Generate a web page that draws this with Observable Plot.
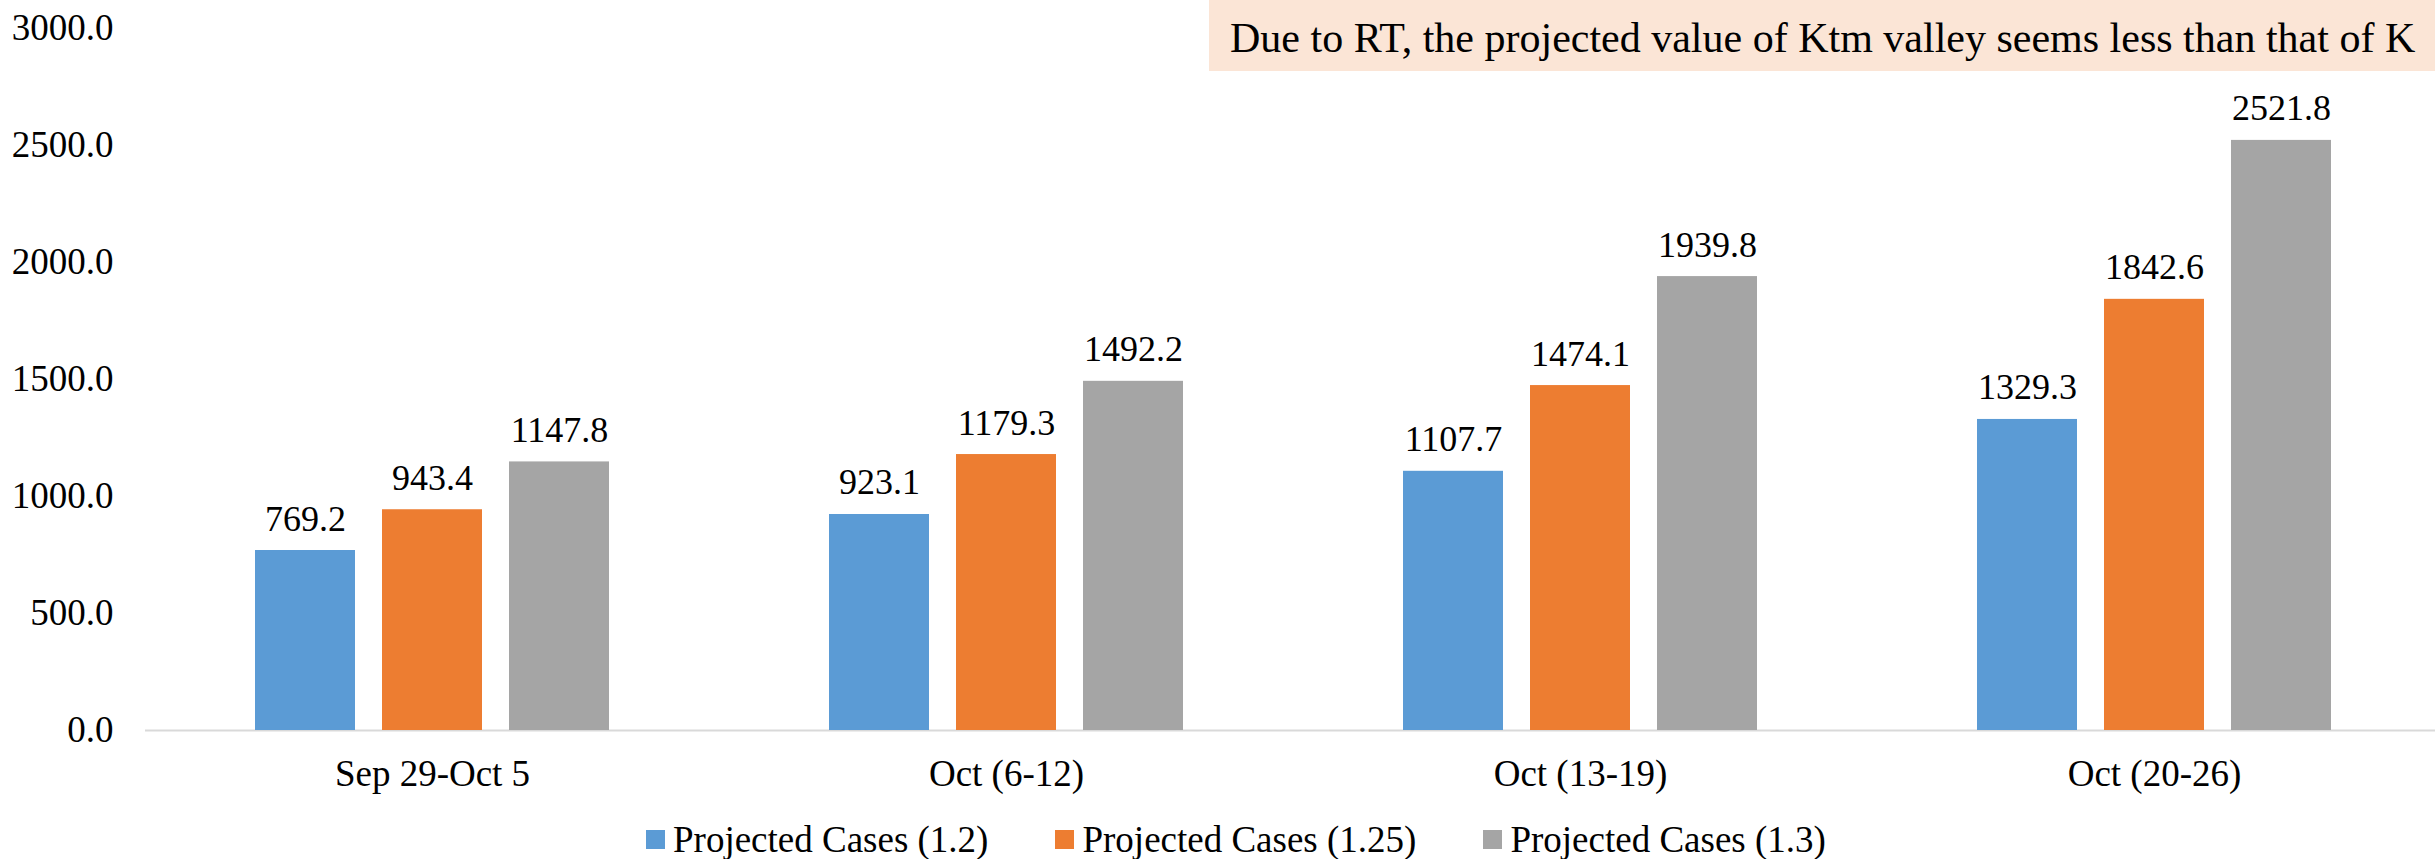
<!DOCTYPE html>
<html>
<head>
<meta charset="utf-8">
<script src="https://cdn.jsdelivr.net/npm/d3@7"></script>
<script src="https://cdn.jsdelivr.net/npm/@observablehq/plot@0.6"></script>
<style>
  html, body { margin: 0; padding: 0; background: #fff; overflow: hidden; }
  #wrap { position: relative; width: 2435px; height: 859px; font-family: "Liberation Serif", "Times New Roman", serif; color: #000; }
  #wrap svg, #wrap svg text { font-family: "Liberation Serif", "Times New Roman", serif !important; }
  #note { position: absolute; left: 1209px; top: 0; width: 1226px; height: 71px; background: #FBE5D6; font-size: 42px; line-height: 76px; padding-left: 21px; white-space: nowrap; overflow: hidden; box-sizing: border-box; z-index: 2; }
  #legend { position: absolute; left: 646px; top: 812px; height: 54px; display: flex; align-items: center; font-size: 37px; white-space: nowrap; }
  .item { display: flex; align-items: center; margin-right: 67px; }
  .sw { width: 19px; height: 19px; margin-right: 8px; }
</style>
</head>
<body>
<div id="wrap"></div>
<script>
const categories = ["Sep 29-Oct 5", "Oct (6-12)", "Oct (13-19)", "Oct (20-26)"];
const seriesNames = ["Projected Cases (1.2)", "Projected Cases (1.25)", "Projected Cases (1.3)"];
const cases12  = [769.2, 923.1, 1107.7, 1329.3];
const cases125 = [943.4, 1179.3, 1474.1, 1842.6];
const cases13  = [1147.8, 1492.2, 1939.8, 2521.8];
const colors = ["#5B9BD5", "#ED7D31", "#A5A5A5"];
const yTicks = [0, 500, 1000, 1500, 2000, 2500, 3000];
const noteText = "Due to RT, the projected value of Ktm valley seems less than that of K";

const rows = [];
[cases12, cases125, cases13].forEach((vals, si) =>
  vals.forEach((v, ci) => rows.push({category: categories[ci], series: seriesNames[si], value: v}))
);
const fmt = d3.format(".1f");

const chart = Plot.plot({
  width: 2435,
  height: 812,
  marginLeft: 144,
  marginRight: 0,
  marginTop: 28,
  marginBottom: 82,
  style: {fontFamily: "'Liberation Serif', 'Times New Roman', serif", fontSize: "37px", color: "#000", background: "transparent"},
  facet: {data: rows, x: "category", label: null},
  fx: {domain: categories, range: [144.3, 2441.5], padding: 0, axis: "bottom", tickSize: 0, tickPadding: 29, label: null},
  x: {domain: seriesNames, paddingInner: 0.216, paddingOuter: 0.86, axis: null},
  y: {domain: [0, 3000], ticks: yTicks, tickFormat: fmt, tickSize: 0, tickPadding: 32, label: null, grid: false},
  color: {domain: seriesNames, range: colors},
  marks: [
    Plot.ruleY([0], {stroke: "#D9D9D9", strokeWidth: 2}),
    Plot.barY(rows, {x: "series", y: "value", fill: "series"}),
    Plot.text(rows, {x: "series", y: "value", text: d => fmt(d.value), lineAnchor: "bottom", dy: -20, fill: "#000", fontSize: 36})
  ]
});

const wrap = document.getElementById("wrap");
chart.style.position = "absolute";
chart.style.left = "0";
chart.style.top = "0";
wrap.appendChild(chart);

const note = document.createElement("div");
note.id = "note";
note.textContent = noteText;
wrap.appendChild(note);

const legend = document.createElement("div");
legend.id = "legend";
seriesNames.forEach((name, i) => {
  const item = document.createElement("div");
  item.className = "item";
  const sw = document.createElement("span");
  sw.className = "sw";
  sw.style.background = colors[i];
  const label = document.createElement("span");
  label.textContent = name;
  item.appendChild(sw);
  item.appendChild(label);
  legend.appendChild(item);
});
wrap.appendChild(legend);
</script>
</body>
</html>
